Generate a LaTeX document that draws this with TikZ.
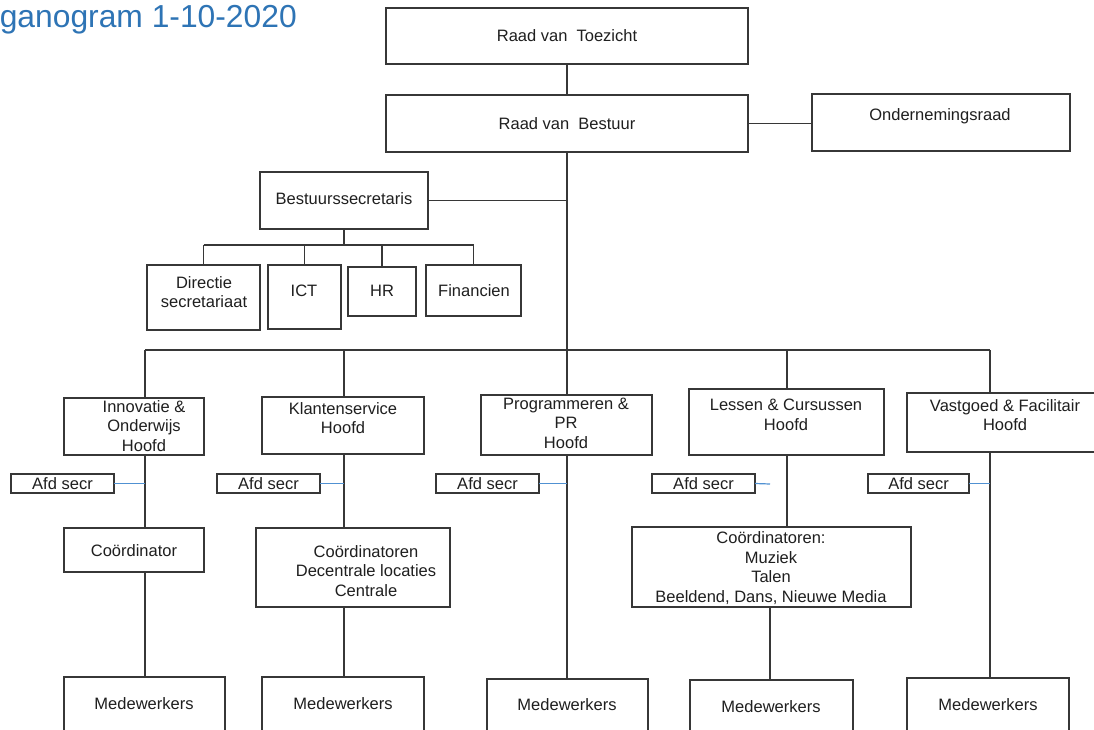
\documentclass[tikz,border=0pt]{standalone}
\usepackage{fontspec}
\setmainfont{Liberation Sans}
\definecolor{titleblue}{RGB}{46,116,181}
\definecolor{linkblue}{RGB}{80,145,210}
\definecolor{edgegray}{RGB}{55,55,55}
\newcommand\orgbox[5]{\node[obox, minimum width={#4pt-#2pt}, minimum height={#5pt-#3pt}] (#1) at ({(#2+#4)/2},{(#3+#5)/2}) {};}
\begin{document}
\begin{tikzpicture}[x=1pt,y=-1pt,
 obox/.style={draw=edgegray, line width=1.2pt, inner sep=0pt, outer sep=0pt, rectangle},
 otext/.style={inner sep=0pt, align=center, font=\fontsize{16.5}{19.5}\selectfont, text=black!88},
 owire/.style={draw=edgegray, line width=1.2pt},
 bwire/.style={draw=linkblue, line width=1.2pt}]
\useasboundingbox (0,0) rectangle (1094,730);
\fill[white] (0,0) rectangle (1094,730);
\clip (0,0) rectangle (1094,730);

% title
\node[anchor=base east, inner sep=0pt, text=titleblue, font=\fontsize{31.8}{38}\selectfont] (title) at (297,28) {Organogram 1-10-2020};

% top boxes
\orgbox{rvt}{386}{8}{748}{64}
\node[otext] (trvt) at (567,36) {Raad van\ \ Toezicht};
\orgbox{rvb}{386}{95}{748}{152}
\node[otext] (trvb) at (567,124) {Raad van\ \ Bestuur};
\orgbox{or}{812}{94}{1070}{151}
\node[otext] (tor) at (940,116) {Ondernemingsraad};
\orgbox{bs}{260}{172}{428}{229}
\node[otext] (tbs) at (344,199) {Bestuurssecretaris};

% staff boxes
\orgbox{dir}{147}{265}{260}{330}
\node[otext] (tdir) at (204,292) {Directie\\secretariaat};
\orgbox{ict}{268}{265}{341}{329}
\node[otext] (tict) at (304,291) {ICT};
\orgbox{hr}{348}{267}{416}{316}
\node[otext] (thr) at (382,291) {HR};
\orgbox{fin}{426}{265}{521}{316}
\node[otext] (tfin) at (474,291) {Financien};

% department heads
\orgbox{ino}{64}{398}{204}{455}
\node[otext] (tino) at (144,426) {Innovatie \&\\Onderwijs\\Hoofd};
\orgbox{kla}{262}{397}{424}{454}
\node[otext] (tkla) at (343,418) {Klantenservice\\Hoofd};
\orgbox{pro}{481}{395}{652}{455}
\node[otext] (tpro) at (566,423) {Programmeren \&\\PR\\Hoofd};
\orgbox{les}{689}{389}{884}{455}
\node[otext] (tles) at (786,415) {Lessen \& Cursussen\\Hoofd};
\orgbox{vas}{907}{393}{1110}{452}
\node[otext] (tvas) at (1005,415) {Vastgoed \& Facilitair\\Hoofd};

% afd secr
\orgbox{a1}{11}{474}{114}{493}
\node[otext] (ta1) at (62.5,484) {Afd secr};
\orgbox{a2}{217}{474}{320}{493}
\node[otext] (ta2) at (268.5,484) {Afd secr};
\orgbox{a3}{436}{474}{539}{493}
\node[otext] (ta3) at (487.5,484) {Afd secr};
\orgbox{a4}{652}{474}{755}{493}
\node[otext] (ta4) at (703.5,484) {Afd secr};
\orgbox{a5}{868}{474}{969}{493}
\node[otext] (ta5) at (918.5,484) {Afd secr};

% coordinators
\orgbox{c1}{64}{528}{204}{572}
\node[otext] (tc1) at (134,551) {Coördinator};
\orgbox{c2}{256}{528}{450}{607}
\node[otext] (tc2) at (366,571) {Coördinatoren\\Decentrale locaties\\Centrale};
\orgbox{c3}{632}{527}{911}{607}
\node[otext] (tc3) at (771,568) {Coördinatoren:\\Muziek\\Talen\\Beeldend, Dans, Nieuwe Media};

% medewerkers
\orgbox{m1}{64}{677}{225}{745}
\node[otext] (tm1) at (144,704) {Medewerkers};
\orgbox{m2}{262}{677}{424}{745}
\node[otext] (tm2) at (343,704) {Medewerkers};
\orgbox{m3}{487}{679}{648}{745}
\node[otext] (tm3) at (567,705) {Medewerkers};
\orgbox{m4}{690}{680}{853}{745}
\node[otext] (tm4) at (771,707) {Medewerkers};
\orgbox{m5}{907}{678}{1069}{745}
\node[otext] (tm5) at (988,705) {Medewerkers};

% junction coordinates
\coordinate (trunk) at (567,350);
\coordinate (sbus) at (344,245);
\coordinate (col1) at (145,350);
\coordinate (col2) at (344,350);
\coordinate (col3) at (567,350);
\coordinate (col4) at (787,350);
\coordinate (col4b) at (770,607);
\coordinate (col5) at (990,350);
\coordinate (a4end) at (770,484);

% top connectors
\draw[owire] (rvt.south) -- (rvb.north);
\draw[owire] (rvb.east) -- (rvb.east -| or.west);
\draw[owire] (rvb.south) -- (trunk);
\draw[owire] (bs.east) -- (bs.east -| rvb.south);
\draw[owire] (bs.south) -- (sbus);
\draw[owire] (sbus -| dir.north) -- (sbus -| fin.north);
\draw[owire] (sbus -| dir.north) -- (dir.north);
\draw[owire] (sbus -| ict.north) -- (ict.north);
\draw[owire] (sbus -| hr.north) -- (hr.north);
\draw[owire] (sbus -| fin.north) -- (fin.north);

% department bus
\draw[owire] (col1) -- (col5);
\draw[owire] (col1) -- (col1 |- ino.north);
\draw[owire] (col2) -- (col2 |- kla.north);
\draw[owire] (col3) -- (col3 |- pro.north);
\draw[owire] (col4) -- (col4 |- les.north);
\draw[owire] (col5) -- (col5 |- vas.north);

% columns
\draw[owire] (col1 |- ino.south) -- (col1 |- c1.north);
\draw[owire] (col1 |- c1.south) -- (col1 |- m1.north);
\draw[owire] (col2 |- kla.south) -- (col2 |- c2.north);
\draw[owire] (col2 |- c2.south) -- (col2 |- m2.north);
\draw[owire] (col3 |- pro.south) -- (col3 |- m3.north);
\draw[owire] (col4 |- les.south) -- (col4 |- c3.north);
\draw[owire] (col4b) -- (col4b |- m4.north);
\draw[owire] (col5 |- vas.south) -- (col5 |- m5.north);

% secretaries
\draw[bwire] (a1.east) -- (a1.east -| col1);
\draw[bwire] (a2.east) -- (a2.east -| col2);
\draw[bwire] (a3.east) -- (a3.east -| col3);
\draw[bwire] (a4.east) -- (a4end);
\draw[bwire] (a5.east) -- (a5.east -| col5);
\end{tikzpicture}
\end{document}
